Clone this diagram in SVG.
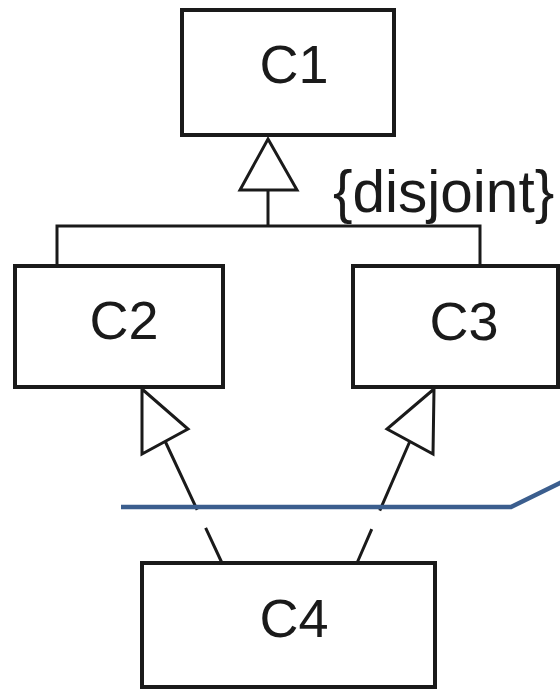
<svg xmlns="http://www.w3.org/2000/svg" width="560" height="691" viewBox="0 0 560 691">
  <style>
    .box { fill: #ffffff; stroke: #1a1a1a; stroke-width: 4; }
    .lbl { font-family: "Liberation Sans", Arial, sans-serif; font-size: 54px; fill: #1a1a1a; text-anchor: middle; }
    .line { fill: none; stroke: #1a1a1a; stroke-width: 3; }
    .dash { fill: none; stroke: #1a1a1a; stroke-width: 3; stroke-dasharray: 76 20; }
    .head { fill: #ffffff; stroke: #1a1a1a; stroke-width: 3; stroke-linejoin: miter; }
  </style>
  <rect width="560" height="691" fill="#ffffff"/>

  <g id="connectors">
    <!-- generalization tree C2/C3 -> C1 -->
    <polyline class="line" points="57,266 57,226 480,226 480,266"/>
    <line class="line" x1="268" y1="226" x2="268" y2="190"/>
    <polygon class="head" points="268,139 297,190 240,190"/>
    <text x="333" y="212" font-family="Liberation Sans, Arial, sans-serif" font-size="58.5" fill="#1a1a1a">{disjoint}</text>

    <!-- realization C4 -> C2 -->
    <line class="dash" x1="165" y1="441" x2="222" y2="563"/>
    <polygon class="head" points="142,389 188,429 142,454"/>

    <!-- realization C4 -> C3 -->
    <line class="dash" x1="410" y1="441" x2="357" y2="563"/>
    <polygon class="head" points="434,389 387,429 433,454"/>
  </g>

  <g id="C1">
    <rect class="box" x="182" y="10" width="212" height="125"/>
    <text class="lbl" x="294" y="83">C1</text>
  </g>
  <g id="C2">
    <rect class="box" x="15" y="266" width="208" height="121"/>
    <text class="lbl" x="124" y="339">C2</text>
  </g>
  <g id="C3">
    <rect class="box" x="353" y="266" width="205" height="121"/>
    <text class="lbl" x="464" y="340">C3</text>
  </g>
  <g id="C4">
    <rect class="box" x="142" y="563" width="293" height="124"/>
    <text class="lbl" x="294" y="637">C4</text>
  </g>

  <!-- blue stroke across the realization lines -->
  <polyline points="121,507 511,507 562,482" fill="none" stroke="#3b5e8e" stroke-width="4.5"/>
</svg>
